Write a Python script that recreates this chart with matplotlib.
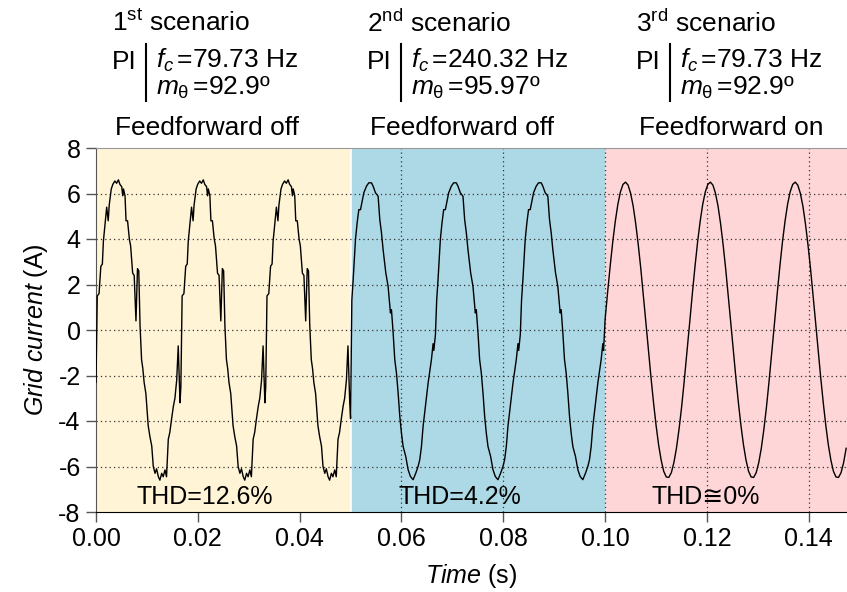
import numpy as np
import matplotlib
matplotlib.use("Agg")
import matplotlib.pyplot as plt
from matplotlib.lines import Line2D

plt.rcParams['font.family'] = ['Liberation Sans', 'DejaVu Sans']
plt.rcParams['mathtext.fontset'] = 'custom'
plt.rcParams['mathtext.rm'] = 'Liberation Sans'
plt.rcParams['mathtext.it'] = 'Liberation Sans:italic'
plt.rcParams['axes.unicode_minus'] = False

# one fundamental cycle (60 Hz) per scenario: time in ms, current in A
period_ms = 16.667

cyc1_t = [0.00, 0.25, 0.60, 0.95, 1.25, 1.45, 1.75, 2.10, 2.40, 2.60, 3.00, 3.30,
          3.70, 4.05, 4.40, 4.70, 5.05, 5.25, 5.40, 5.70, 5.90, 6.20, 6.55, 6.80,
          7.20, 7.50, 7.85, 8.15, 8.40, 8.65, 8.95, 9.20, 9.45, 9.80, 10.25, 10.60,
          10.95, 11.25, 11.60, 11.90, 12.25, 12.55, 12.90, 13.20, 13.55, 13.85, 14.20,
          14.50, 14.85, 15.20, 15.50, 15.85, 16.15, 16.50]
cyc1_v = [-2.5, 1.5, 1.6, 2.8, 2.9, 3.9, 4.6, 5.4, 4.8, 5.5, 6.2, 6.4,
          6.55, 6.45, 6.6, 6.4, 6.3, 5.9, 6.2, 5.9, 4.8, 4.8, 4.0, 3.7,
          2.5, 2.4, 0.4, 2.7, 2.6, 0.2, -1.3, -1.7, -2.3, -2.8, -4.2, -4.7,
          -5.1, -6.0, -6.3, -6.1, -6.45, -6.6, -6.3, -6.45, -6.15, -6.45, -4.8,
          -4.5, -3.9, -3.35, -3.0, -2.2, -0.7, -3.2]

cyc2_t = [0.00, 0.25, 0.51, 0.70, 0.96, 1.29, 1.62, 1.95, 2.34, 2.60, 3.12, 3.58,
          4.10, 4.43, 4.89, 5.41, 5.74, 6.07, 6.39, 6.92, 7.37, 7.83, 8.03, 8.36,
          8.68, 9.01, 9.34, 9.67, 9.99, 10.32, 10.84, 11.30, 11.76, 12.28, 12.81,
          13.26, 13.59, 13.92, 14.24, 14.77, 15.23, 15.88, 16.21, 16.35]
cyc2_v = [-0.2, 1.33, 2.21, 2.95, 3.97, 4.71, 5.29, 5.29, 5.73, 6.03, 6.32, 6.47,
          6.47, 6.32, 6.03, 5.88, 4.85, 4.27, 3.53, 2.51, 1.92, 0.75, 0.89, -0.13,
          -1.30, -1.89, -2.77, -3.80, -4.53, -5.12, -5.56, -6.14, -6.44, -6.58, -6.29,
          -6.00, -5.70, -5.12, -4.24, -3.23, -2.33, -1.30, -0.60, -0.90]

cyc3_t = [0.0, 0.5, 1.0, 1.5, 2.0, 2.5, 3.0, 3.5, 4.0, 4.5, 5.0, 5.5, 6.0, 6.5,
          7.0, 7.5, 8.0, 8.5, 9.0, 9.5, 10.0, 10.5, 11.0, 11.5, 12.0, 12.5, 13.0,
          13.5, 14.0, 14.5, 15.0, 15.5, 16.0, 16.5]
cyc3_v = [0.49, 1.70, 2.84, 3.89, 4.79, 5.53, 6.07, 6.40, 6.50, 6.37, 6.01, 5.45,
          4.68, 3.75, 2.70, 1.54, 0.33, -0.90, -2.08, -3.19, -4.19, -5.05, -5.72,
          -6.21, -6.46, -6.48, -6.27, -5.83, -5.20, -4.38, -3.42, -2.31, -1.14, 0.08]

# scenario windows (s) and the value right at the switching instant
region_start = [0.00, 0.05, 0.10]
region_end = [0.05, 0.10, 0.1475]
first_value = [-2.3, -3.9, 0.49]
region_colors = ['#fff4d6', '#add9e6', '#ffd6d8']

# annotations
ordinals = ['1', '2', '3']
sups = ['st', 'nd', 'rd']
fc_vals = ['79.73', '240.32', '79.73']
mtheta_vals = ['92.9', '95.97', '92.9']
ff_state = ['off', 'off', 'on']
thd_text = ['THD=12.6%', 'THD=4.2%', 'THD\u22450%']
thd_x = [0.0214, 0.0715, 0.1198]

cycles = [(cyc1_t, cyc1_v), (cyc2_t, cyc2_v), (cyc3_t, cyc3_v)]

t_all, i_all = [], []
for r, (ct, cv) in enumerate(cycles):
    k = 0
    while True:
        t = region_start[r] + (k * period_ms + np.array(ct)) / 1000.0
        v = np.array(cv, dtype=float)
        if k == 0:
            v[0] = first_value[r]
        keep = t < region_end[r] - 1e-9
        if not keep.any():
            break
        t_all.append(t[keep])
        i_all.append(v[keep])
        k += 1
t_all = np.concatenate(t_all)
i_all = np.concatenate(i_all)

W, H = 847, 592
fig = plt.figure(figsize=(W / 100, H / 100), dpi=100)
ax = fig.add_axes([96 / W, (H - 512) / H, 1 - 96 / W, (512 - 148) / H])

for r in range(3):
    ax.axvspan(region_start[r], region_end[r], color=region_colors[r], lw=0, zorder=0)
ax.axvline(0.05, color='white', lw=1.2, zorder=1)

dot = (0, (1, 2.5))
for y in np.arange(-6, 8, 2):
    ax.axhline(y, color='#333333', lw=0.9, ls=dot, zorder=1)
for x in [0.06, 0.08, 0.10, 0.12, 0.14]:
    ax.axvline(x, color='#333333', lw=0.9, ls=dot, zorder=1)

ax.plot(t_all, i_all, color='black', lw=1.0, zorder=3)

ax.set_xlim(0, 0.1475)
ax.set_ylim(-8, 8)
ax.set_xticks(np.arange(0, 0.141, 0.02))
ax.set_xticklabels(['%.2f' % v for v in np.arange(0, 0.141, 0.02)])
ax.set_yticks(np.arange(-8, 9, 2))
ax.tick_params(axis='both', direction='out', length=7, width=1, color='#555555',
               labelsize=18, pad=4)
ax.spines['right'].set_visible(False)
ax.spines['top'].set_color('#999999')
ax.spines['left'].set_color('#555555')
ax.spines['bottom'].set_color('black')

ax.set_xlabel(r'$\mathit{Time}$ (s)', fontsize=18, labelpad=8)
ax.set_ylabel(r'$\mathit{Grid\ current}$ (A)', fontsize=18, labelpad=6)

for r in range(3):
    ax.text(thd_x[r], -7.35, thd_text[r], ha='center', va='center', fontsize=18, zorder=4)

# header blocks above each scenario
block_x = [112, 367, 636]
for r in range(3):
    x0 = block_x[r] / W
    fig.text(x0, 1 - 23 / H, ordinals[r] + r'$^{\mathrm{' + sups[r] + r'}}$ scenario',
             fontsize=19, ha='left', va='center')
    fig.text(x0, 1 - 62 / H, 'PI', fontsize=19, ha='left', va='center')
    bx = (block_x[r] + 34) / W
    fig.add_artist(Line2D([bx, bx], [1 - 44 / H, 1 - 101 / H], color='black', lw=1.5,
                          transform=fig.transFigure))
    fig.text((block_x[r] + 44) / W, 1 - 60 / H, r'$f_c\,$' + '=' + fc_vals[r] + ' Hz',
             fontsize=19, ha='left', va='center')
    fig.text((block_x[r] + 44) / W, 1 - 88 / H, r'$m_{\mathrm{\theta}}\,$' + '=' + mtheta_vals[r] + '\u00ba',
             fontsize=19, ha='left', va='center')
    fig.text((block_x[r] + 3) / W, 1 - 128 / H, 'Feedforward ' + ff_state[r],
             fontsize=19, ha='left', va='center')

fig.savefig('out.png', dpi=100)
